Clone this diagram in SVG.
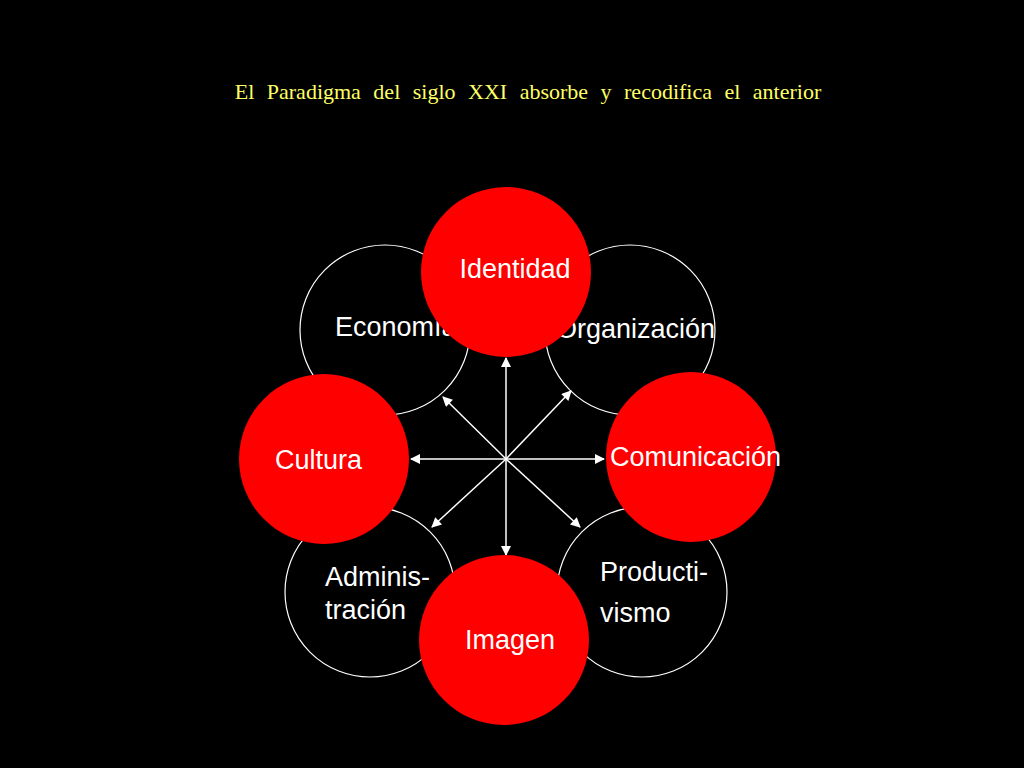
<svg xmlns="http://www.w3.org/2000/svg" width="1024" height="768" viewBox="0 0 1024 768">
<defs>
<style>
.b{fill:#000;stroke:#fff;stroke-width:1.2}
.r{fill:#ff0000;stroke:none}
.t{fill:#fff;font-family:"Liberation Sans",Arial,sans-serif;font-size:27px}
.c{stroke:#fff;stroke-width:1.5;fill:none;marker-end:url(#a)}
</style>
<marker id="a" viewBox="0 0 10 10" refX="9" refY="5" markerWidth="12" markerHeight="10" orient="auto" markerUnits="userSpaceOnUse"><path d="M0,0L10,5L0,10z" fill="#fff"/></marker>
</defs>
<rect width="1024" height="768" fill="#000"/>
<text x="528" y="99" text-anchor="middle" fill="#ffff66" font-family="Liberation Serif,serif" font-size="22" word-spacing="7">El Paradigma del siglo XXI  absorbe y recodifica el anterior</text>
<g id="economia"><circle class="b" cx="385" cy="330" r="85"/><text class="t" x="335" y="336">Economía</text></g>
<g id="organizacion"><circle class="b" cx="630" cy="330" r="85"/><text class="t" x="556" y="338">Organización</text></g>
<g id="administracion"><circle class="b" cx="370" cy="592" r="85"/><text class="t" x="325" y="586">Adminis-</text><text class="t" x="325" y="619">tración</text></g>
<g id="productivismo"><circle class="b" cx="642" cy="592" r="85"/><text class="t" x="600" y="581">Producti-</text><text class="t" x="600" y="622">vismo</text></g>
<g id="connectors">
<line class="c" x1="506" y1="459" x2="506" y2="358"/>
<line class="c" x1="506" y1="459" x2="506" y2="555"/>
<line class="c" x1="506" y1="459" x2="411" y2="459"/>
<line class="c" x1="506" y1="459" x2="604" y2="459"/>
<line class="c" x1="506" y1="459" x2="443" y2="397"/>
<line class="c" x1="506" y1="459" x2="571" y2="391"/>
<line class="c" x1="506" y1="459" x2="432" y2="527"/>
<line class="c" x1="506" y1="459" x2="580" y2="527"/>
</g>
<g id="identidad"><circle class="r" cx="506" cy="272" r="85"/><text class="t" x="515" y="278" text-anchor="middle">Identidad</text></g>
<g id="cultura"><circle class="r" cx="324" cy="459" r="85"/><text class="t" x="275" y="469">Cultura</text></g>
<g id="comunicacion"><circle class="r" cx="691" cy="457" r="85"/><text class="t" x="610" y="466">Comunicación</text></g>
<g id="imagen"><circle class="r" cx="504" cy="640" r="85"/><text class="t" x="510" y="649" text-anchor="middle">Imagen</text></g>
</svg>
